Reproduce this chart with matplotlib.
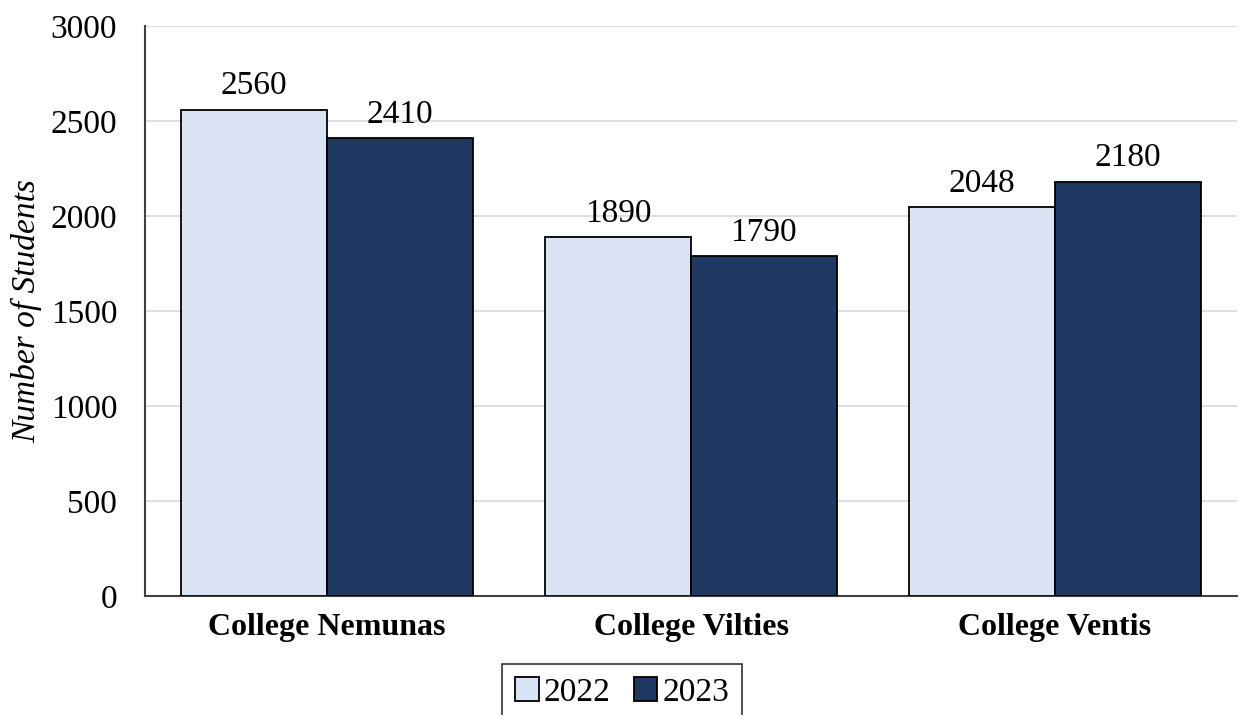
import matplotlib
matplotlib.use("Agg")
import matplotlib.pyplot as plt
import numpy as np

categories = ["College Nemunas", "College Vilties", "College Ventis"]
series_names = ["2022", "2023"]
values_2022 = [2560, 1890, 2048]
values_2023 = [2410, 1790, 2180]
colors = ["#DAE3F3", "#203864"]
yticks = [0, 500, 1000, 1500, 2000, 2500, 3000]

plt.rcParams['font.family'] = ['Liberation Serif', 'DejaVu Serif']

fig = plt.figure(figsize=(12.46, 7.15), dpi=100)
ax = fig.add_axes([145/1246, 1-596/715, (1237-145)/1246, (596-26)/715])

x = np.arange(len(categories))
w = 0.4
b1 = ax.bar(x - w/2, values_2022, w, color=colors[0], edgecolor="black", linewidth=1.3, label=series_names[0], zorder=3)
b2 = ax.bar(x + w/2, values_2023, w, color=colors[1], edgecolor="black", linewidth=1.3, label=series_names[1], zorder=3)
for bars in (b1, b2):
    for r in bars:
        ax.annotate(f"{int(r.get_height())}", (r.get_x() + r.get_width()/2, r.get_height()),
                    xytext=(0, 6), textcoords="offset points", ha="center", va="bottom", fontsize=24)

ax.set_xlim(-0.5, 2.5)
ax.set_ylim(0, 3000)
ax.set_yticks(yticks)
ax.set_yticklabels([str(t) for t in yticks], fontsize=24)
ax.set_xticks(x)
ax.set_xticklabels(categories, fontsize=23, fontweight="bold")
ax.tick_params(axis="both", length=0)
ax.tick_params(axis="y", pad=20)
ax.tick_params(axis="x", pad=12)
ax.grid(axis="y", color="#d9d9d9", linewidth=1.2, zorder=0)
for s in ["top", "right"]:
    ax.spines[s].set_visible(False)
ax.spines["left"].set_color("#404040")
ax.spines["left"].set_linewidth(1.5)
ax.spines["bottom"].set_color("#404040")
ax.spines["bottom"].set_linewidth(1.5)
ax.set_ylabel("Number of Students", fontsize=24, style="italic", labelpad=6)

leg = fig.legend(handles=[b1, b2], labels=series_names, loc="upper center",
                 bbox_to_anchor=(622/1246, 1-664/715), ncol=2, fontsize=24,
                 frameon=True, fancybox=False, edgecolor="black", handlelength=0.7, handleheight=0.7,
                 handletextpad=0.15, columnspacing=0.7, borderpad=0.4, borderaxespad=0)
leg.get_frame().set_linewidth(1.2)

fig.savefig("out.png", dpi=100)
